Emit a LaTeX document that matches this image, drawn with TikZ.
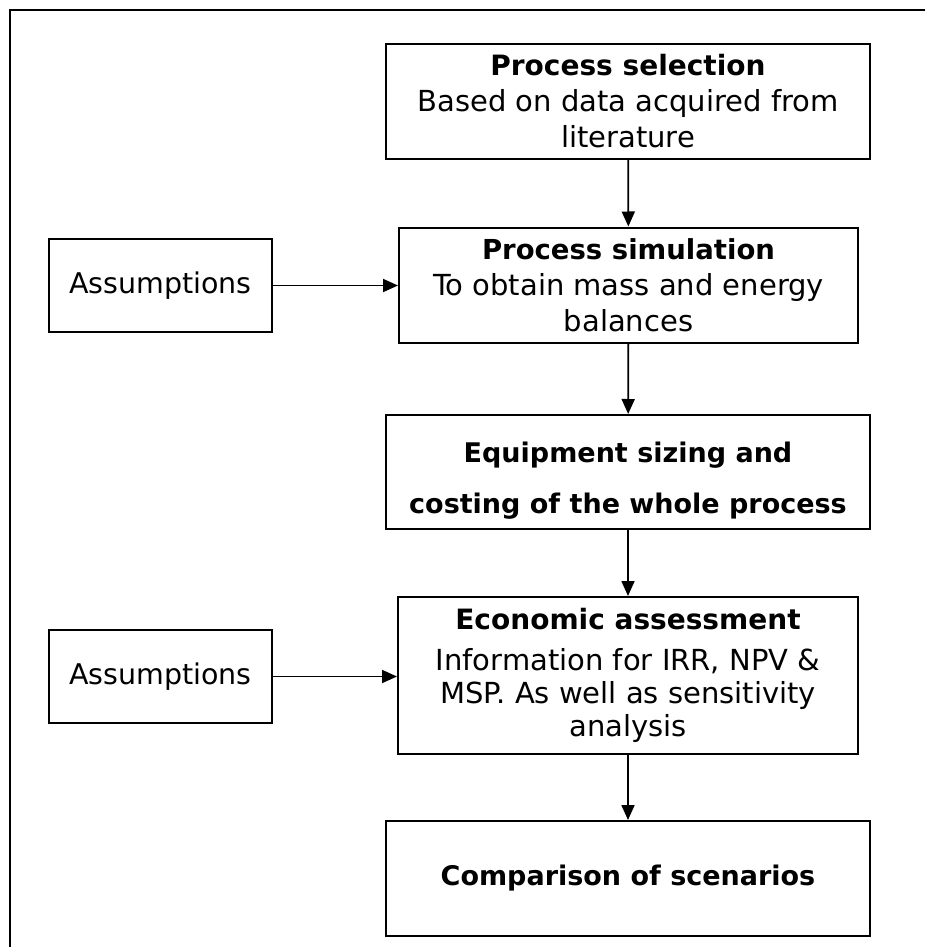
\documentclass[tikz,border=0pt]{standalone}
\usepackage{fontspec}
\setmainfont{DejaVu Sans}
\usetikzlibrary{arrows.meta}
\begin{document}
\begin{tikzpicture}[x=1pt,y=-1pt,
  box/.style={draw, line width=2pt, inner sep=0pt, align=center, font=\fontsize{29}{36}\selectfont},
  arr/.style={line width=1.8pt, -{Triangle[length=15pt,width=13pt]}}]
\useasboundingbox (0,0) rectangle (925,947);
\draw[line width=2.3pt] (10,947) -- (10,10) -- (925,10);
\node[box, minimum width=484pt, minimum height=115pt] (sel) at (628,101.5)
  {\textbf{\fontsize{28}{36}\selectfont Process selection}\\Based on data acquired from\\literature};
\node[box, minimum width=459pt, minimum height=115pt] (sim) at (628.5,285)
  {\textbf{\fontsize{27.5}{36}\selectfont Process simulation}\\To obtain mass and energy\\balances};
\node[box, minimum width=223pt, minimum height=93pt, font=\fontsize{28.5}{36}\selectfont] (as1) at (160.5,285.5) {Assumptions};
\node[box, minimum width=484pt, minimum height=114pt, font=\bfseries\fontsize{27}{51}\selectfont] (eq) at (628,472)
  {\rule{0pt}{38pt}Equipment sizing and\\costing of the whole process};
\node[box, minimum width=460pt, minimum height=157pt, font=\fontsize{29}{33}\selectfont] (eco) at (628,675.5)
  {\textbf{\fontsize{28}{33}\selectfont Economic assessment}\\[8pt]Information for IRR, NPV \&\\MSP. As well as sensitivity\\analysis};
\node[box, minimum width=223pt, minimum height=93pt, font=\fontsize{28.5}{36}\selectfont] (as2) at (160.5,676.5) {Assumptions};
\node[box, minimum width=484pt, minimum height=115pt, font=\bfseries\fontsize{27}{36}\selectfont] (cmp) at (628,878.5)
  {Comparison of scenarios};
\draw[arr] (sel) -- (sim);
\draw[arr] (as1.east) -- (sim.west |- as1.east);
\draw[arr] (sim) -- (eq);
\draw[arr] (eq) -- (eco);
\draw[arr] (as2.east) -- (eco.west |- as2.east);
\draw[arr] (eco) -- (cmp);
\end{tikzpicture}
\end{document}
